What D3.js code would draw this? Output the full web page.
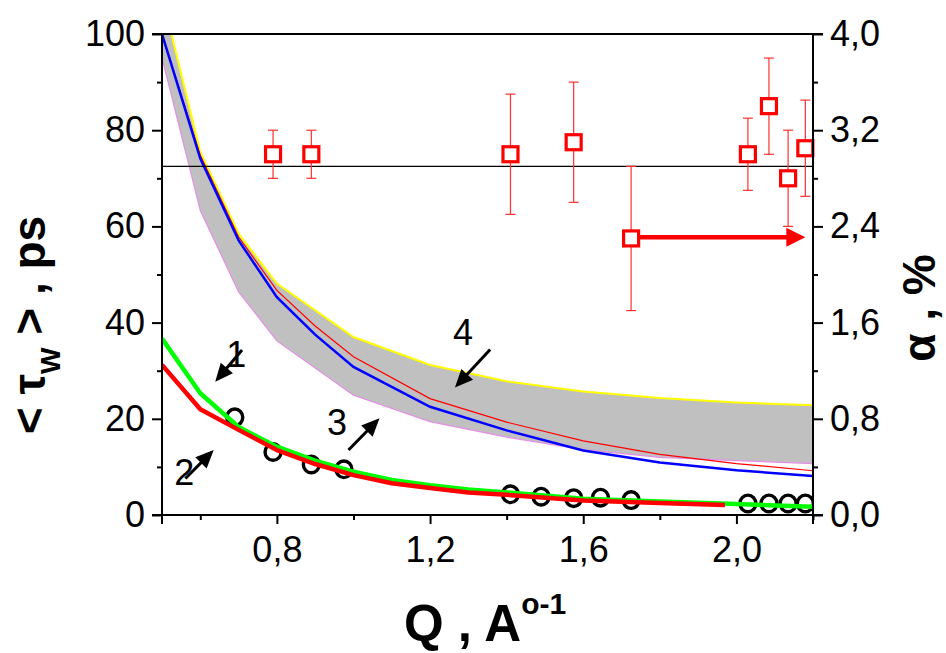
<!DOCTYPE html>
<html><head><meta charset="utf-8">
<script src="https://cdn.jsdelivr.net/npm/d3@7"></script>
<style>
body{margin:0;background:#fff}
svg{display:block}
text{font-family:"Liberation Sans",Arial,sans-serif;fill:#000}
</style>
</head><body>
<svg id="chart" width="946" height="653"></svg>
<script>
// ---------- data ----------
const qBand      = [0.5, 0.6, 0.7, 0.8, 1.0, 1.2, 1.4, 1.6, 1.8, 2.0, 2.2];
const bandUpper  = [108, 75.5, 58.5, 48.1, 37.0, 31.2, 27.8, 25.7, 24.3, 23.4, 22.8];
const bandLower  = [95, 63.3, 46.4, 36.2, 24.9, 19.4, 16.2, 13.6, 12.0, 11.3, 10.7];

const qModel     = [0.5, 0.6, 0.7, 0.8, 0.9, 1.0, 1.2, 1.4, 1.6, 1.8, 2.0, 2.2];
const modelRed   = [100, 74.8, 57.8, 46.7, 39.3, 32.9, 24.2, 19.3, 15.4, 12.6, 10.7, 9.2];
const modelBlue  = [100, 74.1, 57.1, 45.3, 37.5, 30.8, 22.5, 17.6, 13.4, 10.9, 9.3, 8.1];

const qFit1      = [0.5, 0.6, 0.7, 0.8, 0.9, 1.0, 1.1, 1.2, 1.3, 1.4, 1.6, 1.8, 2.0, 2.2];
const fitGreen   = [36.7, 25.3, 18.3, 14.2, 11.3, 9.0, 7.3, 6.2, 5.3, 4.7, 3.4, 2.8, 2.3, 1.7];
const qFit2      = [0.5, 0.6, 0.7, 0.8, 0.9, 1.0, 1.1, 1.2, 1.3, 1.4, 1.6, 1.8, 1.97];
const fitRed     = [31.2, 22.0, 17.7, 13.5, 10.6, 8.3, 6.6, 5.6, 4.7, 4.2, 3.0, 2.5, 2.1];

const qTau       = [0.69, 0.79, 0.89, 0.975, 1.41, 1.49, 1.575, 1.645, 1.725, 2.03, 2.085, 2.135, 2.18];
const tauW       = [20.3, 13.1, 10.5, 9.5, 4.3, 3.8, 3.5, 3.6, 3.1, 2.4, 2.4, 2.4, 2.4];

const qAlpha     = [0.79, 0.89, 1.41, 1.575, 1.725, 2.03, 2.085, 2.135, 2.18];
const alphaVal   = [3.0, 3.0, 3.0, 3.1, 2.3, 3.0, 3.4, 2.8, 3.05];
const alphaErr   = [0.2, 0.2, 0.5, 0.5, 0.6, 0.3, 0.4, 0.4, 0.4];
const alphaRef   = 2.9;

const xTickVals   = [0.8, 1.2, 1.6, 2.0];
const xTickLabels = ["0,8", "1,2", "1,6", "2,0"];
const xMinor      = [0.6, 1.0, 1.4, 1.8, 2.2];
const yTickVals   = [0, 20, 40, 60, 80, 100];
const yTickLabels = ["0", "20", "40", "60", "80", "100"];
const yMinor      = [10, 30, 50, 70, 90];
const y2TickVals  = [0, 0.8, 1.6, 2.4, 3.2, 4.0];
const y2TickLabels= ["0,0", "0,8", "1,6", "2,4", "3,2", "4,0"];
const y2Minor     = [0.4, 1.2, 2.0, 2.8, 3.6];

// annotation arrows (in data units: Q, tau)
const arrowLabels = ["1", "2", "3", "4"];
const labelPos    = [[0.694, 30.8], [0.558, 6.2], [0.957, 16.6], [1.286, 35.3]];
const arrowFrom   = [[0.709, 34.3], [0.561, 7.6], [0.987, 13.5], [1.357, 34.4]];
const arrowTo     = [[0.639, 27.7], [0.635, 13.5], [1.068, 20.1], [1.265, 26.5]];
// red arrow (Q, alpha)
const redArrowFrom = [1.745, 2.31];
const redArrowTo   = [2.18, 2.31];

// ---------- layout ----------
const svg = d3.select("#chart");
const L = 162, R = 813, T = 34, B = 515;
const x  = d3.scaleLinear().domain([0.5, 2.2]).range([L, R]);
const y  = d3.scaleLinear().domain([0, 100]).range([B, T]);
const y2 = d3.scaleLinear().domain([0, 4.0]).range([B, T]);

const defs = svg.append("defs");
defs.append("clipPath").attr("id", "clip").append("rect")
  .attr("x", L).attr("y", T).attr("width", R - L).attr("height", B - T);

const plot = svg.append("g").attr("clip-path", "url(#clip)");

// band
const bandData = qBand.map((q, i) => ({q, u: bandUpper[i], l: bandLower[i]}));
plot.append("path").datum(bandData)
  .attr("d", d3.area().x(d => x(d.q)).y0(d => y(d.l)).y1(d => y(d.u)))
  .attr("fill", "#c0c0c0");
const lineXY = (xs, ys, sy) => d3.line()(xs.map((q, i) => [x(q), sy(ys[i])]));
plot.append("path").attr("d", lineXY(qBand, bandLower, y))
  .attr("fill", "none").attr("stroke", "#e58ee5").attr("stroke-width", 1.2);
plot.append("path").attr("d", lineXY(qBand, bandUpper, y))
  .attr("fill", "none").attr("stroke", "#ffff00").attr("stroke-width", 2);
plot.append("path").attr("d", lineXY(qModel, modelRed, y))
  .attr("fill", "none").attr("stroke", "#ff0000").attr("stroke-width", 1.2);
plot.append("path").attr("d", lineXY(qModel, modelBlue, y))
  .attr("fill", "none").attr("stroke", "#0000ff").attr("stroke-width", 2.5);

// circles
plot.selectAll("ellipse.tau").data(qTau).enter().append("ellipse")
  .attr("cx", d => x(d)).attr("cy", (d, i) => y(tauW[i]))
  .attr("rx", 8).attr("ry", 8.3)
  .attr("fill", "none").attr("stroke", "#000").attr("stroke-width", 3.4);

// fits
plot.append("path").attr("d", lineXY(qFit1, fitGreen, y))
  .attr("fill", "none").attr("stroke", "#00ff00").attr("stroke-width", 4.5).attr("stroke-linejoin", "round");
plot.append("path").attr("d", lineXY(qFit2, fitRed, y))
  .attr("fill", "none").attr("stroke", "#ff0000").attr("stroke-width", 4.5).attr("stroke-linejoin", "round");

// reference line
svg.append("line").attr("x1", L).attr("x2", R).attr("y1", y2(alphaRef)).attr("y2", y2(alphaRef))
  .attr("stroke", "#000").attr("stroke-width", 1.2);

// error bars + squares
const sq = svg.append("g");
qAlpha.forEach((q, i) => {
  const cx = x(q), top = y2(alphaVal[i] + alphaErr[i]), bot = y2(alphaVal[i] - alphaErr[i]);
  sq.append("line").attr("x1", cx).attr("x2", cx).attr("y1", Math.max(top, T)).attr("y2", bot)
    .attr("stroke", "#ff3030").attr("stroke-width", 1.2);
  [top, bot].forEach(v => { if (v >= T) sq.append("line")
    .attr("x1", cx - 5).attr("x2", cx + 5).attr("y1", v).attr("y2", v)
    .attr("stroke", "#ff3030").attr("stroke-width", 1.2); });
});
sq.selectAll("rect").data(qAlpha).enter().append("rect")
  .attr("x", d => x(d) - 7.5).attr("y", (d, i) => y2(alphaVal[i]) - 7.5)
  .attr("width", 15).attr("height", 15)
  .attr("fill", "#fff").attr("stroke", "#ff0000").attr("stroke-width", 3.2);

// arrow helper
function arrow(g, x1, y1, x2, y2p, w, hl, hw, color) {
  const dx = x2 - x1, dy = y2p - y1, len = Math.hypot(dx, dy);
  const ux = dx / len, uy = dy / len;
  const bx = x2 - ux * hl, by = y2p - uy * hl;
  g.append("line").attr("x1", x1).attr("y1", y1).attr("x2", bx + ux * 2).attr("y2", by + uy * 2)
    .attr("stroke", color).attr("stroke-width", w);
  g.append("polygon").attr("points",
    [[x2, y2p], [bx - uy * hw, by + ux * hw], [bx + uy * hw, by - ux * hw]].map(p => p.join(",")).join(" "))
    .attr("fill", color);
}
const ann = svg.append("g");
arrowLabels.forEach((lab, i) => {
  ann.append("text").attr("x", x(labelPos[i][0])).attr("y", y(labelPos[i][1]))
    .attr("text-anchor", "middle").attr("font-size", 36).text(lab);
  arrow(ann, x(arrowFrom[i][0]), y(arrowFrom[i][1]), x(arrowTo[i][0]), y(arrowTo[i][1]), 3, 18, 8, "#000");
});
arrow(ann, x(redArrowFrom[0]), y2(redArrowFrom[1]), x(redArrowTo[0]), y2(redArrowTo[1]), 4.5, 19, 9.5, "#ff0000");

// ---------- axes ----------
function styleAxis(g) {
  g.select(".domain").remove();
  g.selectAll(".tick line").attr("stroke", "#000").attr("stroke-width", 2);
  g.selectAll("text").attr("font-size", 36).attr("font-family", '"Liberation Sans",Arial,sans-serif').attr("fill", "#000");
}
// bottom
svg.append("g").attr("transform", `translate(0,${B})`)
  .call(d3.axisBottom(x).tickValues(xTickVals).tickFormat((d, i) => xTickLabels[i]).tickSize(9).tickPadding(12))
  .call(styleAxis);
svg.append("g").attr("transform", `translate(0,${B})`)
  .call(d3.axisBottom(x).tickValues(xMinor).tickFormat("").tickSize(5)).call(styleAxis);
// left
svg.append("g").attr("transform", `translate(${L},0)`)
  .call(d3.axisLeft(y).tickValues(yTickVals).tickFormat((d, i) => yTickLabels[i]).tickSize(10).tickPadding(7))
  .call(styleAxis);
svg.append("g").attr("transform", `translate(${L},0)`)
  .call(d3.axisLeft(y).tickValues(yMinor).tickFormat("").tickSize(5)).call(styleAxis);
// right
svg.append("g").attr("transform", `translate(${R},0)`)
  .call(d3.axisRight(y2).tickValues(y2TickVals).tickFormat((d, i) => y2TickLabels[i]).tickSize(10).tickPadding(7))
  .call(styleAxis);
svg.append("g").attr("transform", `translate(${R},0)`)
  .call(d3.axisRight(y2).tickValues(y2Minor).tickFormat("").tickSize(5)).call(styleAxis);

// frame lines
const fr = svg.append("g").attr("stroke", "#000").attr("stroke-width", 2);
fr.append("line").attr("x1", L - 10).attr("x2", R + 10).attr("y1", T).attr("y2", T);
fr.append("line").attr("x1", L - 10).attr("x2", R + 10).attr("y1", B).attr("y2", B);
fr.append("line").attr("x1", L).attr("x2", L).attr("y1", T).attr("y2", B + 9);
fr.append("line").attr("x1", R).attr("x2", R).attr("y1", T).attr("y2", B + 9);

// ---------- titles ----------
const yt = svg.append("text").attr("transform", "translate(45,325) rotate(-90)")
  .attr("text-anchor", "middle").attr("font-size", 46).attr("font-weight", "bold");
yt.append("tspan").text("< τ");
yt.append("tspan").attr("font-size", 28).attr("dy", 15).text("W");
yt.append("tspan").attr("dy", -15).text(" > , ps");

svg.append("text").attr("transform", "translate(935,308) rotate(-90)")
  .attr("text-anchor", "middle").attr("font-size", 46).attr("font-weight", "bold").text("α , %");

const xt = svg.append("text").attr("x", 404).attr("y", 641)
  .attr("font-size", 51).attr("font-weight", "bold");
xt.append("tspan").text("Q , A");
xt.append("tspan").attr("font-size", 30).attr("dy", -27).text("o-1");
</script>
</body></html>
